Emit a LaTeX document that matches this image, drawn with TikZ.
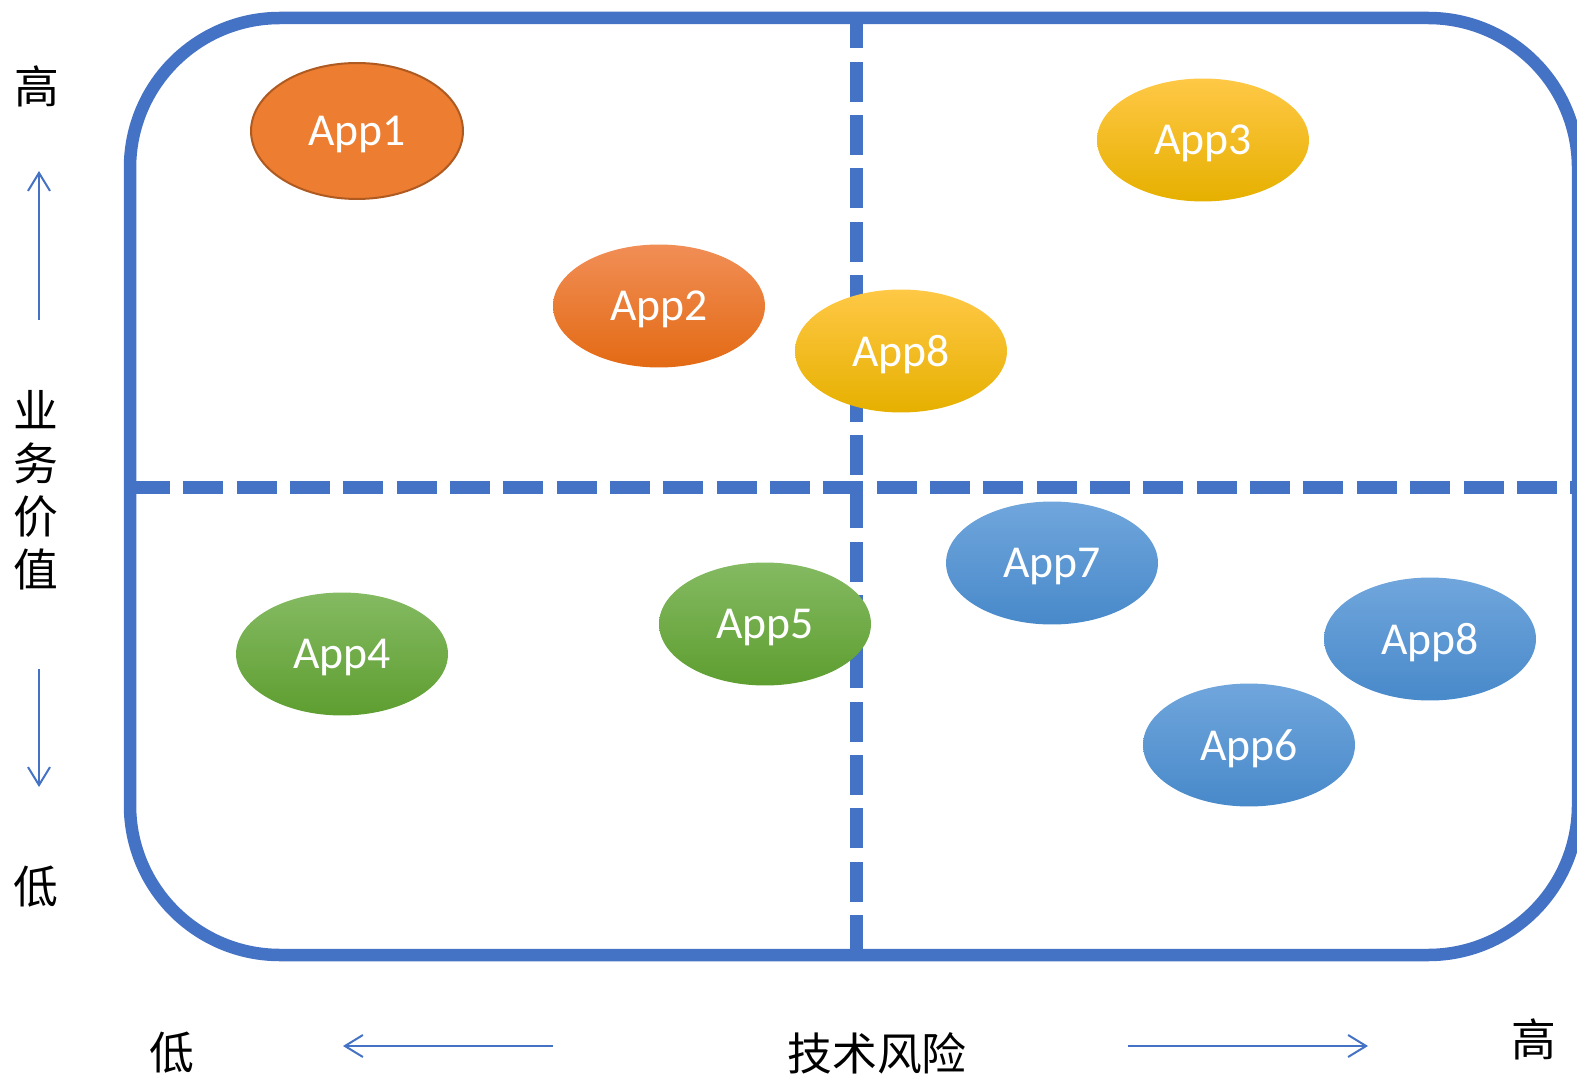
\documentclass[tikz,border=0pt]{standalone}
\usepackage{fontspec}
\setmainfont{Carlito}
\newfontfamily\cjk{Noto Sans CJK SC}
\usepackage{xcolor}
\usetikzlibrary{shapes.geometric,arrows.meta}
\definecolor{frameblue}{HTML}{4472C4}

\begin{document}
\begin{tikzpicture}[x=0.02cm,y=-0.02cm,
  app/.style={ellipse,minimum width=4.24cm,minimum height=2.46cm,inner sep=0pt,
    text=white,text depth=0pt,font=\fontsize{26}{30}\selectfont},
  orangeapp/.style={app,top color={rgb,255:red,241;green,142;blue,86},
    middle color={rgb,255:red,240;green,124;blue,44},bottom color={rgb,255:red,227;green,106;blue,20}},
  yellowapp/.style={app,top color={rgb,255:red,255;green,200;blue,70},
    middle color={rgb,255:red,255;green,192;blue,0},bottom color={rgb,255:red,230;green,176;blue,0}},
  greenapp/.style={app,top color={rgb,255:red,132;green,186;blue,98},
    middle color={rgb,255:red,112;green,173;blue,71},bottom color={rgb,255:red,94;green,158;blue,48}},
  blueapp/.style={app,top color={rgb,255:red,112;green,166;blue,220},
    middle color={rgb,255:red,91;green,155;blue,213},bottom color={rgb,255:red,72;green,137;blue,202}},
  axislabel/.style={font=\cjk\fontsize{25.5}{30.2}\selectfont,inner sep=0pt},
  axisarrow/.style={draw=frameblue,line width=0.04cm,-{Straight Barb[length=0.36cm,width=0.44cm]}},
  quadline/.style={draw=frameblue,line width=0.26cm,dash pattern=on 0.8cm off 0.267cm}]
\clip (0,0) rectangle (1577,1077);

\draw [frameblue,line width=0.25cm,rounded corners=3cm] (130,18) rectangle (1578,955);
\draw [quadline] (856,955) -- (856,18);
\draw [quadline] (130,487) -- (1600,487);

\node [app,fill={rgb,255:red,237;green,125;blue,49},draw={rgb,255:red,174;green,90;blue,33},
  line width=0.04cm,minimum height=2.72cm] (app1) at (357,131) {App1};
\node [orangeapp] (app2) at (659,306) {App2};
\node [yellowapp] (app3) at (1203,140) {App3};
\node [yellowapp] (app8a) at (901,351) {App8};
\node [greenapp] (app4) at (342,654) {App4};
\node [greenapp] (app5) at (765,624) {App5};
\node [blueapp] (app7) at (1052,563) {App7};
\node [blueapp] (app8b) at (1430,639) {App8};
\node [blueapp] (app6) at (1249,745) {App6};

\node [axislabel] (valuehigh) at (37,86) {高};
\node [axislabel,align=center] (value) at (36,490) {业\\务\\价\\值};
\node [axislabel] (valuelow) at (36,887) {低};
\node [axislabel] (risklow) at (172,1053) {低};
\node [axislabel] (risk) at (877,1053) {技术风险};
\node [axislabel] (riskhigh) at (1534,1039) {高};

\coordinate (upfrom) at (39,320);
\coordinate (upto) at (39,171);
\coordinate (downfrom) at (39,669);
\coordinate (downto) at (39,787);
\coordinate (leftfrom) at (553,1046);
\coordinate (leftto) at (343,1046);
\coordinate (rightfrom) at (1128,1046);
\coordinate (rightto) at (1368,1046);
\draw [axisarrow] (upfrom) -- (upto);
\draw [axisarrow] (downfrom) -- (downto);
\draw [axisarrow] (leftfrom) -- (leftto);
\draw [axisarrow] (rightfrom) -- (rightto);
\end{tikzpicture}
\end{document}
